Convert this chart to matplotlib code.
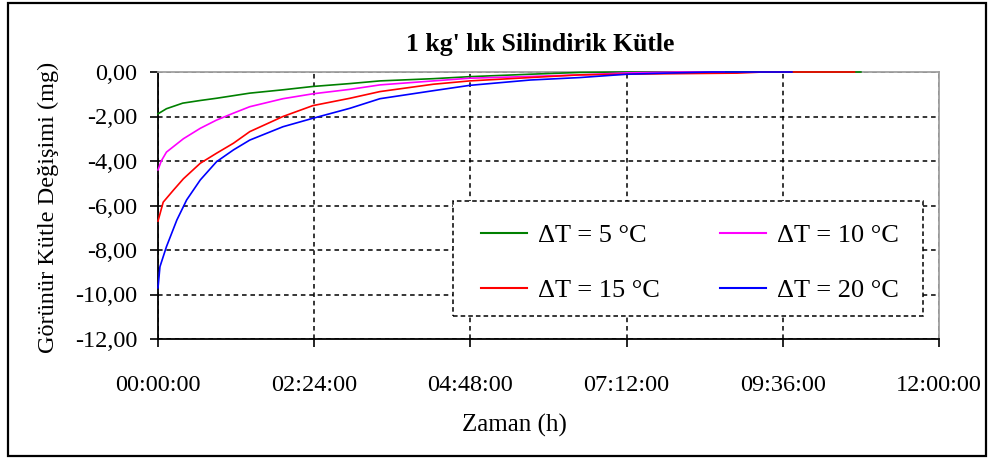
import matplotlib.pyplot as plt
from matplotlib.patches import Rectangle

# Time in hours, apparent mass change in mg
t_5 = [0, 0.13, 0.38, 0.65, 0.9, 1.41, 1.92, 2.38, 2.95, 3.41, 4.23, 4.79, 5.72, 6.48, 7.2, 8.5, 9.7, 10.8]
dm_5 = [-1.88, -1.65, -1.4, -1.28, -1.18, -0.95, -0.8, -0.65, -0.52, -0.4, -0.3, -0.21, -0.1, -0.02, 0, 0, 0, 0]

t_10 = [0, 0.05, 0.13, 0.39, 0.65, 0.9, 1.15, 1.41, 1.92, 2.38, 2.95, 3.41, 4.23, 4.79, 5.72, 6.48, 7.2, 8.0, 8.7]
dm_10 = [-4.4, -4.0, -3.6, -3.0, -2.53, -2.16, -1.86, -1.56, -1.2, -0.98, -0.78, -0.58, -0.4, -0.28, -0.2, -0.13, -0.04, 0, 0]

t_15 = [0, 0.08, 0.24, 0.39, 0.65, 0.9, 1.16, 1.41, 1.92, 2.38, 2.95, 3.41, 4.23, 4.79, 5.72, 6.48, 7.2, 7.8, 8.9, 9.3, 10.7]
dm_15 = [-6.7, -5.85, -5.3, -4.8, -4.1, -3.65, -3.2, -2.68, -2.0, -1.51, -1.18, -0.88, -0.55, -0.4, -0.25, -0.13, -0.1, -0.08, -0.05, 0, 0]

t_20 = [0, 0.03, 0.13, 0.29, 0.44, 0.65, 0.9, 1.16, 1.41, 1.92, 2.38, 2.95, 3.41, 4.23, 4.79, 5.72, 6.48, 7.2, 7.8, 8.5, 9.74]
dm_20 = [-9.7, -8.75, -7.85, -6.65, -5.75, -4.85, -4.03, -3.5, -3.06, -2.46, -2.08, -1.63, -1.2, -0.84, -0.6, -0.36, -0.25, -0.1, -0.05, 0, 0]

series_labels = ['ΔT = 5 °C', 'ΔT = 10 °C', 'ΔT = 15 °C', 'ΔT = 20 °C']
series_colors = ['#008000', '#ff00ff', '#ff0000', '#0000ff']

xticks = [0, 2.4, 4.8, 7.2, 9.6, 12]
xtick_labels = ['00:00:00', '02:24:00', '04:48:00', '07:12:00', '09:36:00', '12:00:00']
yticks = [0, -2, -4, -6, -8, -10, -12]
ytick_labels = ['0,00', '-2,00', '-4,00', '-6,00', '-8,00', '-10,00', '-12,00']

plt.rcParams['font.family'] = ['Liberation Serif', 'DejaVu Serif']

W, H = 992, 459
fig = plt.figure(figsize=(W / 100, H / 100), dpi=100)
ax = fig.add_axes([158 / W, 1 - 339 / H, (939 - 158) / W, (339 - 72) / H])

lines = []
for t, dm, lab, col in zip([t_5, t_10, t_15, t_20], [dm_5, dm_10, dm_15, dm_20], series_labels, series_colors):
    ln, = ax.plot(t, dm, color=col, lw=1.2, label=lab, clip_on=False, zorder=3)
    lines.append(ln)

ax.set_xlim(0, 12)
ax.set_ylim(-12, 0)
ax.set_xticks(xticks)
ax.set_xticklabels(xtick_labels, fontsize=17.5)
ax.set_yticks(yticks)
ax.set_yticklabels(ytick_labels, fontsize=17.5)
ax.tick_params(axis='both', direction='out', length=6, width=1.2, color='black')
ax.tick_params(axis='x', pad=20)
ax.tick_params(axis='y', pad=9)

ax.grid(True, color='black', linestyle=(0, (3, 2.5)), linewidth=1.1)
ax.set_axisbelow(True)

for side in ['left', 'bottom']:
    ax.spines[side].set_color('black')
    ax.spines[side].set_linewidth(1.3)
for side in ['top', 'right']:
    ax.spines[side].set_color('#a0a0a0')
    ax.spines[side].set_linewidth(1.3)

# dashed legend box, drawn separately so the entries can sit where they do in the original
ax.add_patch(Rectangle((0.3777, 0.0861), 0.6018, 0.4308, transform=ax.transAxes,
                       facecolor='white', edgecolor='black', linestyle=(0, (3, 2)),
                       linewidth=1.1, zorder=4))

# legend: row 1 = 5, 10 ; row 2 = 15, 20
order = [0, 2, 1, 3]
leg = ax.legend([lines[i] for i in order], [series_labels[i] for i in order],
                ncol=2, loc='center', bbox_to_anchor=(0.681, 0.284),
                fontsize=19, frameon=False,
                handlelength=1.75, handletextpad=0.4, columnspacing=2.3,
                labelspacing=1.2)
leg.set_zorder(5)
for h in leg.get_lines():
    h.set_linewidth(1.5)

fig.text(540 / W, 1 - 44 / H, "1 kg' lık Silindirik Kütle", fontsize=18.5,
         fontweight='bold', ha='center', va='center')
fig.text(514 / W, 1 - 425 / H, 'Zaman (h)', fontsize=18, ha='center', va='center')
fig.text(48 / W, 1 - 207 / H, 'Görünür Kütle Değişimi (mg)', fontsize=17.5,
         rotation=90, ha='center', va='center')

# outer chart border
fig.patches.append(Rectangle((8 / W, 3 / H), (986 - 8) / W, (456 - 3) / H,
                             transform=fig.transFigure, fill=False,
                             edgecolor='black', linewidth=1.6))

fig.savefig('out.png', dpi=100)
